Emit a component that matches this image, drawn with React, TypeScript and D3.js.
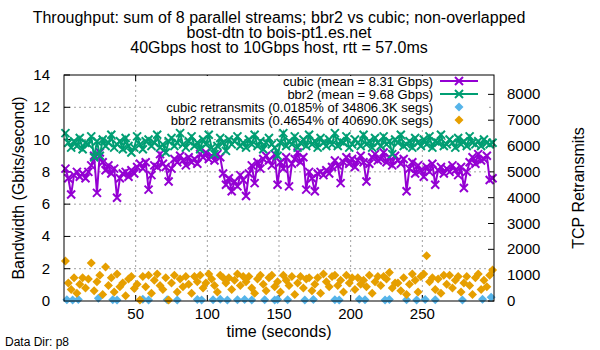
import React from 'react';
import * as d3 from 'd3';

const width = 600;
const height = 350;
const margin = { left: 64, right: 106, top: 75, bottom: 49 };

const titleLines = [
  'Throughput: sum of 8 parallel streams; bbr2 vs cubic; non-overlapped',
  'bost-dtn to bois-pt1.es.net',
  '40Gbps host to 10Gbps host, rtt = 57.0ms',
];

const xTicks = [50, 100, 150, 200, 250];
const yTicks = [0, 2, 4, 6, 8, 10, 12, 14];
const y2Ticks = [0, 1000, 2000, 3000, 4000, 5000, 6000, 7000, 8000];

// one sample every 2 seconds, starting at t = 1
const cubicGbps = [
  8.2, 7.6, 6.6, 7.8, 8.0, 7.7, 7.9, 7.6, 8.0, 8.4, 9.0, 6.7, 9.2, 8.6, 8.1,
  8.4, 7.9, 8.2, 6.4, 7.6, 7.9, 8.0, 7.7, 8.1, 7.9, 8.3, 8.5, 8.2, 8.6, 6.9,
  7.8, 8.4, 8.3, 9.1, 8.5, 8.3, 7.4, 8.2, 8.8, 8.6, 9.0, 8.7, 8.4, 8.9, 8.6,
  8.8, 8.5, 9.1, 8.9, 9.2, 8.8, 9.0, 8.7, 9.1, 8.9, 7.9, 7.2, 7.6, 6.8, 7.4,
  7.1, 7.8, 7.5, 6.5, 7.9, 8.4, 7.3, 8.6, 8.2, 8.8, 9.0, 8.7, 8.4, 9.1, 7.2,
  8.6, 8.2, 8.9, 7.1, 8.5, 8.8, 9.2, 8.6, 8.9, 6.9, 8.0, 7.6, 6.8, 7.9, 8.0,
  7.8, 8.1, 7.9, 8.3, 8.7, 8.4, 7.3, 8.6, 8.9, 8.5, 8.8, 8.3, 8.7, 9.0, 8.6,
  7.4, 8.5, 8.9, 9.1, 8.7, 8.8, 9.2, 8.6, 8.9, 8.4, 9.0, 8.7, 8.5, 8.8, 6.8,
  8.2, 8.6, 7.9, 8.4, 8.1, 7.7, 8.3, 8.0, 8.5, 7.2, 8.1, 8.3, 7.9, 8.2, 8.0,
  8.4, 8.1, 7.8, 8.3, 7.0, 8.0, 8.6, 8.9, 8.5, 9.1, 8.7, 8.8, 9.0, 7.5, 7.6,
];

const bbr2Gbps = [
  10.4, 9.8, 9.5, 9.9, 9.6, 10.1, 9.4, 9.8, 9.7, 10.2, 8.9, 9.9, 9.0, 10.0, 9.6,
  9.8, 10.3, 9.5, 9.7, 9.9, 9.4, 10.1, 9.6, 9.2, 9.5, 10.2, 9.7, 9.4, 9.9, 10.0,
  9.6, 9.8, 10.3, 9.5, 9.7, 9.2, 9.9, 10.1, 9.6, 9.8, 10.4, 9.7, 9.5, 9.9, 10.2,
  9.6, 9.8, 9.4, 10.0, 9.7, 10.3, 9.5, 9.1, 9.6, 10.1, 9.8, 9.3, 10.0, 9.7, 9.9,
  10.2, 9.6, 9.8, 9.5, 10.0, 9.7, 10.3, 9.6, 9.9, 9.4, 9.8, 10.1, 9.7, 9.5, 9.0,
  9.8, 10.4, 9.6, 9.9, 9.7, 10.2, 9.5, 9.8, 10.0, 9.6, 10.3, 9.7, 9.9, 9.5, 10.1,
  9.8, 9.6, 10.0, 9.7, 10.4, 9.6, 9.9, 9.8, 10.2, 9.5, 9.7, 10.0, 9.8, 9.6, 10.3,
  9.7, 9.9, 9.5, 10.1, 9.8, 9.6, 10.2, 9.7, 9.9, 9.1, 10.0, 9.8, 10.3, 9.6, 9.7,
  9.9, 9.5, 10.1, 9.8, 9.6, 10.0, 9.7, 10.2, 9.5, 9.9, 9.8, 10.3, 9.6, 9.7, 10.0,
  9.8, 9.5, 10.1, 9.7, 9.9, 9.6, 10.2, 9.8, 9.7, 9.9, 9.6, 10.0, 9.8, 9.7, 9.8,
];

const bbr2Retrans = [
  1550, 700, 450, 900, 300, 650, 900, 500, 850, 1470, 400, 750, 1000, 250, 1320,
  600, 900, 350, 1050, 550, 700, 200, 850, 950, 480, 650, 40, 950, 550, 1000,
  300, 800, 1050, 600, 450, 900, 40, 700, 1000, 350, 850, 550, 950, 650, 300,
  950, 750, 1000, 500, 700, 1050, 850, 600, 350, 1000, 900, 700, 900, 450, 800,
  1050, 600, 950, 750, 950, 500, 300, 850, 1000, 650, 400, 900, 1000, 550, 750,
  350, 1000, 800, 600, 950, 250, 700, 950, 500, 850, 900, 400, 650, 900, 300,
  1050, 750, 550, 950, 1000, 600, 800, 350, 1000, 700, 900, 450, 900, 650, 800,
  550, 1000, 300, 750, 950, 600, 950, 850, 1100, 500, 700, 700, 400, 900, 250,
  650, 1050, 800, 350, 950, 1050, 1750, 750, 900, 450, 850, 300, 1000, 650, 1000,
  500, 800, 950, 350, 700, 950, 600, 250, 900, 1050, 450, 800, 550, 1000, 1200,
];

// cubic retransmits: only the non-zero seconds
const cubicRetransTime = [
  2, 6, 10, 24, 34, 37, 55, 59, 72, 79, 93, 96, 104, 109, 114, 121, 126, 131,
  140, 147, 149, 156, 168, 174, 189, 192, 206, 210, 224, 227, 239, 246, 252,
  259, 278, 292, 298,
];
const cubicRetransValue = [
  50, 40, 60, 110, 50, 40, 70, 40, 50, 40, 60, 40, 50, 70, 40, 50, 60, 40,
  50, 40, 60, 50, 40, 60, 50, 40, 70, 50, 40, 60, 50, 40, 60, 50, 40, 70, 150,
];

const legendLabels = [
  'cubic (mean = 8.31 Gbps)',
  'bbr2 (mean = 9.68 Gbps)',
  'cubic retransmits (0.0185% of 34806.3K segs)',
  'bbr2 retransmits (0.4654% of 40690.0K segs)',
];

const colors = ['#9400d3', '#009e73', '#56b4e9', '#e69f00'];
const font = 'Liberation Sans, Arial, sans-serif';

const Cross = ({ x, y, color }) => (
  <path d={`M${x - 4},${y - 4}L${x + 4},${y + 4}M${x - 4},${y + 4}L${x + 4},${y - 4}`}
    stroke={color} strokeWidth={2} />
);

const Diamond = ({ x, y, color }) => (
  <path d={`M${x},${y - 4.5}L${x + 4.5},${y}L${x},${y + 4.5}L${x - 4.5},${y}Z`} fill={color} />
);

export default function App() {
  const x = d3.scaleLinear().domain([0, 300]).range([margin.left, width - margin.right]);
  const y = d3.scaleLinear().domain([0, 14]).range([height - margin.bottom, margin.top]);
  const y2 = d3.scaleLinear().domain([0, 8750]).range([height - margin.bottom, margin.top]);

  const times = cubicGbps.map((_, i) => 1 + i * 2);
  const line = d3.line<number>().x((_, i) => x(times[i])).y(d => y(d));

  const left = margin.left, right = width - margin.right;
  const top = margin.top, bottom = height - margin.bottom;
  const cx = (left + right) / 2;

  const legX = 433;
  const legY = [81, 94, 107, 120];

  return (
    <svg width={width} height={height} style={{ position: 'absolute', left: 0, top: 0, background: '#fff' }}
      fontFamily={font}>
      <rect width={width} height={height} fill="#fff" />
      {titleLines.map((t, i) => (
        <text key={i} x={cx} y={23 + i * 15} textAnchor="middle" fontSize={16}>{t}</text>
      ))}

      {/* grid */}
      {xTicks.map(t => (
        <line key={t} x1={x(t)} x2={x(t)} y1={top} y2={bottom} stroke="#a0a0a0" strokeDasharray="2,3" />
      ))}
      {yTicks.filter(t => t > 0 && t < 14).map(t => (
        <line key={t} x1={left} x2={right} y1={y(t)} y2={y(t)} stroke="#a0a0a0" strokeDasharray="2,3" />
      ))}

      {/* ticks */}
      {xTicks.map(t => (
        <g key={t}>
          <line x1={x(t)} x2={x(t)} y1={bottom} y2={bottom - 6} stroke="#000" />
          <line x1={x(t)} x2={x(t)} y1={top} y2={top + 6} stroke="#000" />
          <text x={x(t)} y={bottom + 18} textAnchor="middle" fontSize={15}>{t}</text>
        </g>
      ))}
      {yTicks.map(t => (
        <g key={t}>
          <line x1={left} x2={left + 6} y1={y(t)} y2={y(t)} stroke="#000" />
          <text x={50} y={y(t) + 5} textAnchor="end" fontSize={15}>{t}</text>
        </g>
      ))}
      {y2Ticks.map(t => (
        <g key={t}>
          <line x1={right} x2={right - 6} y1={y2(t)} y2={y2(t)} stroke="#000" />
          <text x={507} y={y2(t) + 5} textAnchor="start" fontSize={15}>{t}</text>
        </g>
      ))}

      {/* data */}
      <path d={line(cubicGbps) || ''} fill="none" stroke={colors[0]} strokeWidth={2} />
      {cubicGbps.map((d, i) => <Cross key={i} x={x(times[i])} y={y(d)} color={colors[0]} />)}
      <path d={line(bbr2Gbps) || ''} fill="none" stroke={colors[1]} strokeWidth={2} />
      {bbr2Gbps.map((d, i) => <Cross key={i} x={x(times[i])} y={y(d)} color={colors[1]} />)}
      {cubicRetransValue.map((d, i) => (
        <Diamond key={i} x={x(cubicRetransTime[i])} y={y2(d)} color={colors[2]} />
      ))}
      {bbr2Retrans.map((d, i) => <Diamond key={i} x={x(times[i])} y={y2(d)} color={colors[3]} />)}

      {/* legend */}
      <rect x={152} y={top + 1} width={right - 152 - 7} height={52} fill="#fff" />
      {legendLabels.map((l, i) => (
        <g key={i}>
          <text x={legX} y={legY[i] + 4.5} textAnchor="end" fontSize={13}>{l}</text>
          {i < 2 && <line x1={440} x2={478} y1={legY[i]} y2={legY[i]} stroke={colors[i]} strokeWidth={2} />}
          {i < 2 ? <Cross x={459} y={legY[i]} color={colors[i]} /> : <Diamond x={459} y={legY[i]} color={colors[i]} />}
        </g>
      ))}

      <rect x={left} y={top} width={right - left} height={bottom - top} fill="none" stroke="#000" />

      {/* axis labels */}
      <text x={cx} y={337} textAnchor="middle" fontSize={16}>time (seconds)</text>
      <text transform={`translate(24,${(top + bottom) / 2}) rotate(-90)`} textAnchor="middle" fontSize={16}>
        Bandwidth (Gbits/second)
      </text>
      <text transform={`translate(584,${(top + bottom) / 2}) rotate(-90)`} textAnchor="middle" fontSize={16}>
        TCP Retransmits
      </text>
      <text x={5} y={346} fontSize={12}>Data Dir: p8</text>
    </svg>
  );
}
